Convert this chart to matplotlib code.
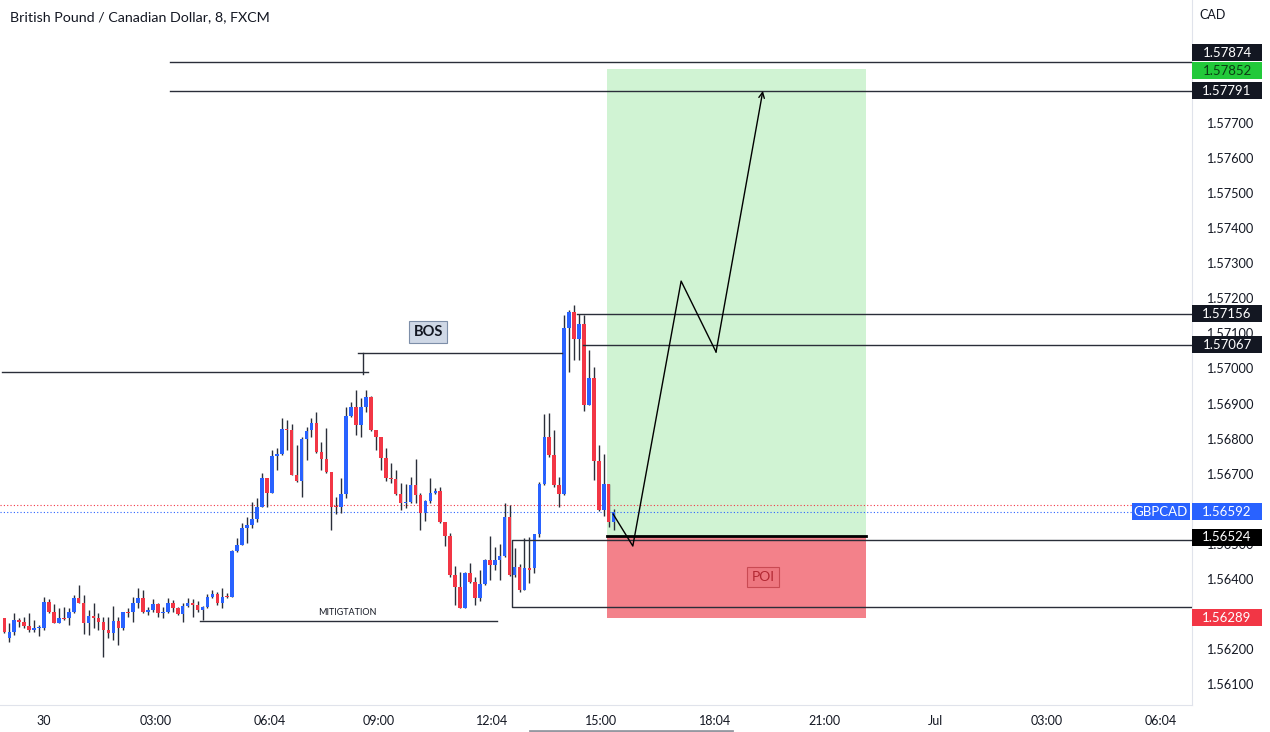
import numpy as np
import matplotlib
matplotlib.use('Agg')
import matplotlib.pyplot as plt
from matplotlib.patches import Rectangle
from matplotlib.lines import Line2D
from matplotlib.transforms import blended_transform_factory

plt.rcParams['font.family'] = ['Lato', 'DejaVu Sans']

# ---------------------------------------------------------------------------
# GBPCAD 8 min candles (hours since 30 Jun 00:00, first candle at 22:56)
start_hour = -64 / 60
step_hour = 8 / 60

opens = [
    1.56288, 1.56231, 1.56250, 1.56283, 1.56278, 1.56266, 1.56256, 1.56259, 1.56261, 1.56335,
    1.56307, 1.56275, 1.56288, 1.56288, 1.56305, 1.56345, 1.56333, 1.56274, 1.56295, 1.56288,
    1.56278, 1.56256, 1.56247, 1.56280, 1.56259, 1.56305, 1.56305, 1.56332, 1.56346, 1.56305,
    1.56313, 1.56328, 1.56304, 1.56307, 1.56333, 1.56316, 1.56300, 1.56324, 1.56333, 1.56326,
    1.56313, 1.56319, 1.56348, 1.56357, 1.56331, 1.56350, 1.56348, 1.56481, 1.56497, 1.56544,
    1.56554, 1.56570, 1.56606, 1.56687, 1.56646, 1.56750, 1.56755, 1.56827, 1.56824, 1.56696,
    1.56679, 1.56799,
    1.56824, 1.56845, 1.56763, 1.56741, 1.56706, 1.56608, 1.56604, 1.56641, 1.56864, 1.56889,
    1.56839, 1.56889, 1.56919, 1.56824, 1.56804, 1.56744, 1.56687, 1.56684, 1.56642, 1.56616,
    1.56620, 1.56668, 1.56639, 1.56589, 1.56623, 1.56644, 1.56652, 1.56563, 1.56522, 1.56411,
    1.56376, 1.56316, 1.56418, 1.56392, 1.56345, 1.56386, 1.56454, 1.56440, 1.56454, 1.56465,
    1.56578, 1.56411, 1.56433, 1.56370, 1.56430, 1.56430, 1.56527, 1.56671, 1.56805, 1.56753,
    1.56668, 1.56642, 1.57114, 1.57162, 1.57083, 1.57127, 1.56896, 1.56972, 1.56737, 1.56596,
    1.56671, 1.56563,
]
highs = [
    1.56288, 1.56274, 1.56304, 1.56288, 1.56291, 1.56302, 1.56283, 1.56269, 1.56348, 1.56342,
    1.56328, 1.56316, 1.56321, 1.56316, 1.56354, 1.56383, 1.56354, 1.56311, 1.56333, 1.56302,
    1.56293, 1.56293, 1.56323, 1.56293, 1.56307, 1.56316, 1.56348, 1.56375, 1.56368, 1.56321,
    1.56342, 1.56332, 1.56321, 1.56345, 1.56340, 1.56321, 1.56331, 1.56345, 1.56342, 1.56338,
    1.56323, 1.56356, 1.56370, 1.56364, 1.56373, 1.56359, 1.56482, 1.56516, 1.56560, 1.56578,
    1.56620, 1.56630, 1.56701, 1.56687, 1.56768, 1.56772, 1.56860, 1.56853, 1.56843, 1.56782,
    1.56806, 1.56834,
    1.56858, 1.56877, 1.56791, 1.56829, 1.56706, 1.56634, 1.56687, 1.56891, 1.56905, 1.56939,
    1.56915, 1.56939, 1.56921, 1.56824, 1.56805, 1.56772, 1.56730, 1.56711, 1.56674, 1.56672,
    1.56691, 1.56741, 1.56644, 1.56625, 1.56687, 1.56658, 1.56663, 1.56563, 1.56530, 1.56437,
    1.56421, 1.56421, 1.56446, 1.56406, 1.56426, 1.56456, 1.56522, 1.56492, 1.56501, 1.56616,
    1.56611, 1.56487, 1.56444, 1.56518, 1.56520, 1.56527, 1.56677, 1.56870, 1.56874, 1.56824,
    1.56691, 1.57152, 1.57167, 1.57181, 1.57155, 1.57152, 1.57052, 1.57003, 1.56782, 1.56756,
    1.56671, 1.56600,
]
lows = [
    1.56245, 1.56221, 1.56240, 1.56264, 1.56259, 1.56250, 1.56250, 1.56237, 1.56256, 1.56302,
    1.56274, 1.56274, 1.56283, 1.56269, 1.56302, 1.56331, 1.56242, 1.56240, 1.56259, 1.56254,
    1.56179, 1.56231, 1.56226, 1.56212, 1.56256, 1.56293, 1.56278, 1.56316, 1.56302, 1.56297,
    1.56307, 1.56293, 1.56288, 1.56302, 1.56307, 1.56297, 1.56278, 1.56321, 1.56293, 1.56307,
    1.56283, 1.56316, 1.56345, 1.56326, 1.56316, 1.56347, 1.56348, 1.56478, 1.56497, 1.56502,
    1.56544, 1.56563, 1.56604, 1.56606, 1.56644, 1.56711, 1.56753, 1.56769, 1.56696, 1.56677,
    1.56634, 1.56739,
    1.56805, 1.56758, 1.56711, 1.56701, 1.56541, 1.56585, 1.56587, 1.56630, 1.56862, 1.56810,
    1.56805, 1.56877, 1.56823, 1.56768, 1.56711, 1.56680, 1.56674, 1.56639, 1.56598, 1.56601,
    1.56616, 1.56616, 1.56539, 1.56566, 1.56618, 1.56642, 1.56560, 1.56494, 1.56406, 1.56326,
    1.56316, 1.56316, 1.56388, 1.56326, 1.56338, 1.56383, 1.56397, 1.56426, 1.56397, 1.56463,
    1.56408, 1.56406, 1.56364, 1.56369, 1.56388, 1.56416, 1.56520, 1.56668, 1.56748, 1.56663,
    1.56606, 1.56639, 1.56991, 1.57024, 1.57024, 1.56880, 1.56896, 1.56682, 1.56595, 1.56579,
    1.56547, 1.56541,
]
closes = [
    1.56250, 1.56250, 1.56283, 1.56278, 1.56266, 1.56256, 1.56259, 1.56264, 1.56335, 1.56307,
    1.56275, 1.56288, 1.56285, 1.56305, 1.56345, 1.56333, 1.56274, 1.56295, 1.56288, 1.56278,
    1.56256, 1.56247, 1.56280, 1.56259, 1.56305, 1.56303, 1.56332, 1.56346, 1.56305, 1.56313,
    1.56328, 1.56304, 1.56307, 1.56333, 1.56316, 1.56300, 1.56324, 1.56333, 1.56326, 1.56313,
    1.56319, 1.56350, 1.56357, 1.56331, 1.56350, 1.56348, 1.56481, 1.56497, 1.56544, 1.56554,
    1.56570, 1.56606, 1.56687, 1.56646, 1.56750, 1.56755, 1.56827, 1.56824, 1.56696, 1.56679,
    1.56799, 1.56822,
    1.56845, 1.56763, 1.56741, 1.56706, 1.56606, 1.56604, 1.56641, 1.56864, 1.56889, 1.56839,
    1.56889, 1.56919, 1.56824, 1.56804, 1.56744, 1.56687, 1.56684, 1.56642, 1.56616, 1.56620,
    1.56668, 1.56639, 1.56589, 1.56623, 1.56644, 1.56652, 1.56563, 1.56522, 1.56411, 1.56376,
    1.56316, 1.56418, 1.56392, 1.56345, 1.56386, 1.56454, 1.56440, 1.56454, 1.56465, 1.56578,
    1.56411, 1.56433, 1.56370, 1.56430, 1.56427, 1.56527, 1.56671, 1.56805, 1.56753, 1.56668,
    1.56642, 1.57114, 1.57162, 1.57083, 1.57127, 1.56896, 1.56972, 1.56737, 1.56596, 1.56671,
    1.56563, 1.56592,
]

# time axis
tick_hours = [0, 3, 6.067, 9, 12.067, 15, 18.067, 21, 24, 27, 30.067]
tick_labels = ['30', '03:00', '06:04', '09:00', '12:04', '15:00', '18:04', '21:00', 'Jul', '03:00', '06:04']

# price axis (levels hidden behind labels are left blank)
price_ticks = [1.561, 1.562, 1.563, 1.564, 1.565, 1.566, 1.567, 1.568, 1.569,
               1.570, 1.571, 1.572, 1.573, 1.574, 1.575, 1.576, 1.577]
hidden_ticks = [1.563, 1.566]

# drawings (price levels)
last_price = 1.56592
prev_close = 1.56612
level_high_1 = 1.57874
level_high_2 = 1.57791
take_profit = 1.57852
entry = 1.56524
stop_loss = 1.56289
swing_high = 1.57156
swing_level = 1.57067
old_high = 1.56990
bos_level = 1.57044
mitigation_level = 1.56280
poi_top = 1.56512
poi_bottom = 1.56320
path_hours = [15.32, 15.85, 17.15, 18.09, 19.35]
path_prices = [1.56585, 1.56494, 1.57249, 1.57047, 1.57791]

# ---------------------------------------------------------------------------
fig = plt.figure(figsize=(12.7, 7.32), dpi=100)
ax = fig.add_axes([0, 27 / 732, 1192 / 1270, 705 / 732])
x_left, x_right = -44 / 37.15, (1192 - 44) / 37.15
ax.set_xlim(x_left, x_right)
ax.set_ylim(1.56041, 1.5805)

o = np.array(opens)
h = np.array(highs)
l = np.array(lows)
c = np.array(closes)
t = start_hour + np.arange(len(o)) * step_hour
colors = np.where(c >= o, '#2962ff', '#f23645')

ax.vlines(t, l, h, color='#2a2e39', lw=1, zorder=3)
ax.bar(t, np.maximum(np.abs(c - o), 0.00003), bottom=np.minimum(o, c),
       width=step_hour * 0.72, color=colors, zorder=4)

# long position box
x0, x1 = 15.155, 22.13
ax.add_patch(Rectangle((x0, entry), x1 - x0, take_profit - entry, fc='#d0f3d3', ec='none', zorder=1))
ax.add_patch(Rectangle((x0, stop_loss), x1 - x0, entry - stop_loss, fc='#f3818a', ec='none', zorder=1))
ax.plot([x0, x1], [entry, entry], color='#000000', lw=2, zorder=5)

line_kw = dict(color='#2a2e39', lw=1, zorder=5)
ax.plot([3.39, x_right], [level_high_1] * 2, **line_kw)
ax.plot([3.39, x_right], [level_high_2] * 2, **line_kw)
ax.plot([14.35, x_right], [swing_high] * 2, **line_kw)
ax.plot([14.51, x_right], [swing_level] * 2, **line_kw)
ax.plot([x_left + 0.05, 8.72], [old_high] * 2, **line_kw)
ax.plot([8.45, 13.94], [bos_level] * 2, **line_kw)
ax.plot([8.59, 8.59], [bos_level, old_high - 0.00005], **line_kw)
ax.plot([4.2, 12.19], [mitigation_level] * 2, **line_kw)
ax.plot([x_right, 12.6, 12.6, x_right], [poi_top, poi_top, poi_bottom, poi_bottom], **line_kw)

# dotted price lines
ax.plot([x_left, 29.3], [prev_close] * 2, color='#f23645', lw=0.8, ls=(0, (1, 2)), zorder=2)
ax.plot([x_left, 29.3], [last_price] * 2, color='#2962ff', lw=0.8, ls=(0, (1, 2)), zorder=2)

# projected path
ax.plot(path_hours[:-1], path_prices[:-1], color='#000000', lw=1, zorder=6)
ax.annotate('', xy=(path_hours[-1], path_prices[-1]), xytext=(path_hours[-2], path_prices[-2]),
            arrowprops=dict(arrowstyle='->', color='#000000', lw=1, shrinkA=0, shrinkB=0), zorder=6)

# text labels
ax.text(10.34, 1.57104, 'BOS', ha='center', va='center', fontsize=10.5, fontweight='bold', color='#131722',
        bbox=dict(boxstyle='square,pad=0.3', fc='#cfd8e6', ec='#7d8ea8', lw=0.8), zorder=7)
ax.text(19.35, 1.56406, 'POI', ha='center', va='center', fontsize=10, color='#b22833',
        bbox=dict(boxstyle='square,pad=0.3', fc='#ee7780', ec='#c94a53', lw=0.8), zorder=7)
ax.text(8.16, 1.56306, 'MITIGTATION', ha='center', va='center', fontsize=6.5, color='#131722', zorder=7)

# axes styling
ax.yaxis.tick_right()
ax.set_yticks(price_ticks)
ax.set_yticklabels(['' if p in hidden_ticks else '%.5f' % p for p in price_ticks])
ax.set_xticks(tick_hours)
ax.set_xticklabels(tick_labels)
ax.tick_params(axis='y', length=0, pad=10, labelsize=9.2, labelcolor='#131722')
ax.tick_params(axis='x', length=0, pad=7, labelsize=9, labelcolor='#131722')
for side in ['top', 'left']:
    ax.spines[side].set_visible(False)
for side in ['right', 'bottom']:
    ax.spines[side].set_color('#e0e3eb')

# price boxes on the right axis
trans = blended_transform_factory(ax.transAxes, ax.transData)
box_w = 70 / 1192
box_h = 17 * 0.0000285


def price_box(y_center, text, fc, x_start=1.0, width=box_w, tc='white'):
    ax.add_patch(Rectangle((x_start, y_center - box_h / 2), width, box_h, transform=trans,
                           fc=fc, ec='none', clip_on=False, zorder=10))
    ax.text(x_start + width / 2, y_center, text, transform=trans, ha='center', va='center',
            fontsize=9.5, color=tc, zorder=11, clip_on=False)


price_box(level_high_1 + 0.00025, '%.5f' % level_high_1, '#131722')
price_box(take_profit - 0.00004, '%.5f' % take_profit, '#22c93a', tc='#0b3d14')
price_box(level_high_2, '%.5f' % level_high_2, '#131722')
price_box(swing_high, '%.5f' % swing_high, '#131722')
price_box(swing_level, '%.5f' % swing_level, '#131722')
price_box(last_price, '%.5f' % last_price, '#2962ff')
price_box(last_price, 'GBPCAD', '#2962ff', x_start=1 - 60 / 1192, width=58 / 1192)
price_box(entry - 0.00005, '%.5f' % entry, '#000000')
price_box(stop_loss, '%.5f' % stop_loss, '#f23645')

fig.text(10 / 1270, 1 - 17 / 732, 'British Pound / Canadian Dollar, 8, FXCM',
         ha='left', va='center', fontsize=10.3, color='#131722')
fig.text(1213 / 1270, 1 - 15 / 732, 'CAD', ha='center', va='center', fontsize=9, color='#131722')
fig.add_artist(Line2D([530 / 1270, 732 / 1270], [1.5 / 732] * 2, color='#9598a1', lw=2))

fig.savefig('out.png', dpi=100, facecolor='white')
